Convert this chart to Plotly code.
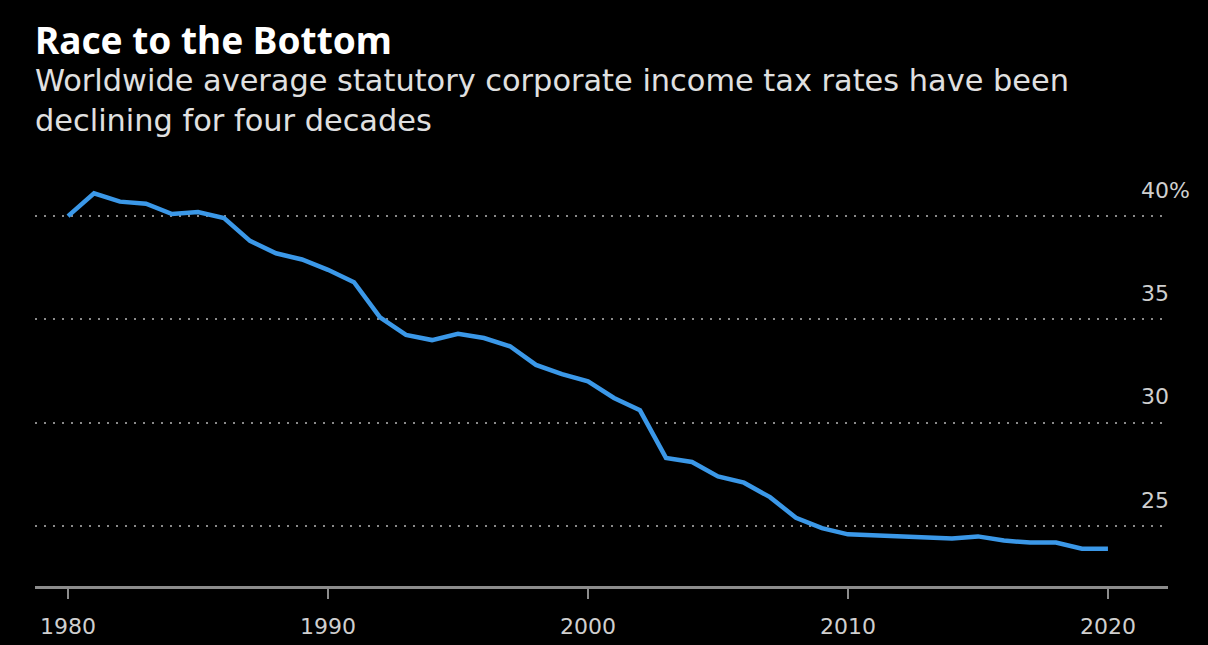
import plotly.graph_objects as go

years = list(range(1980, 2021))
rates = [40.0, 41.1, 40.7, 40.6, 40.1, 40.2, 39.9, 38.8, 38.2, 37.9,
         37.4, 36.8, 35.1, 34.25, 34.0, 34.3, 34.1, 33.7, 32.8, 32.35,
         32.0, 31.2, 30.6, 28.3, 28.1, 27.4, 27.1, 26.4, 25.4, 24.9,
         24.6, 24.55, 24.5, 24.4, 24.4, 24.5, 24.3, 24.2, 24.2, 23.9,
         23.9]
x_tickvals = [1980, 1990, 2000, 2010, 2020]
y_tickvals = [25, 30, 35, 40]
y_ticktext = ["25", "30", "35", "40%"]

title = "Race to the Bottom"
subtitle = "Worldwide average statutory corporate income tax rates have been<br>declining for four decades"

TFONT = "Noto Sans"
FONT = "DejaVu Sans"
W, H = 1208, 645
ml, mr, mt, mb = 35, 40, 170, 59
ph = H - mt - mb
pw = W - ml - mr

def py(ypx):
    return (H - mb - ypx) / ph

def px(xpx):
    return (xpx - ml) / pw

fig = go.Figure()
fig.add_trace(go.Scatter(x=years, y=rates, mode="lines",
                         line=dict(color="#3b98e8", width=4.5),
                         hoverinfo="skip", showlegend=False))

annotations = [
    dict(text="<b>" + title + "</b>", xref="paper", yref="paper",
         x=px(33), y=py(12), xanchor="left", yanchor="top", showarrow=False,
         font=dict(family=TFONT, size=37, color="#ffffff")),
    dict(text=subtitle, xref="paper", yref="paper", align="left",
         x=px(33), y=py(61), xanchor="left", yanchor="top", showarrow=False,
         font=dict(family=FONT, size=30.4, color="#e0e0e0")),
]
for v, t in zip(y_tickvals, y_ticktext):
    annotations.append(dict(text=t, xref="paper", yref="y", x=px(1139), y=v,
                            xanchor="left", yanchor="middle", yshift=26,
                            showarrow=False,
                            font=dict(family=FONT, size=22, color="#cfcfcf")))

fig.update_layout(
    width=W, height=H,
    margin=dict(l=ml, r=mr, t=mt, b=mb, pad=0, autoexpand=False),
    paper_bgcolor="#000000", plot_bgcolor="#000000",
    font=dict(family=FONT, color="#cfcfcf"),
    annotations=annotations,
    xaxis=dict(range=[1978.73, 2022.31], tickvals=x_tickvals,
               automargin=False,
               showgrid=False, zeroline=False,
               showline=True, linecolor="#8c8c8c", linewidth=2.5,
               ticks="outside", ticklen=10, tickwidth=2, tickcolor="#8c8c8c",
               ticklabelstandoff=9,
               tickfont=dict(family=FONT, size=22, color="#cfcfcf")),
    yaxis=dict(range=[22.1, 42.23], tickvals=y_tickvals, automargin=False,
               showticklabels=False, showgrid=True, zeroline=False,
               gridcolor="#8a8a8a", gridwidth=2, griddash="2px,7px"),
)

fig.write_html("out.html")
